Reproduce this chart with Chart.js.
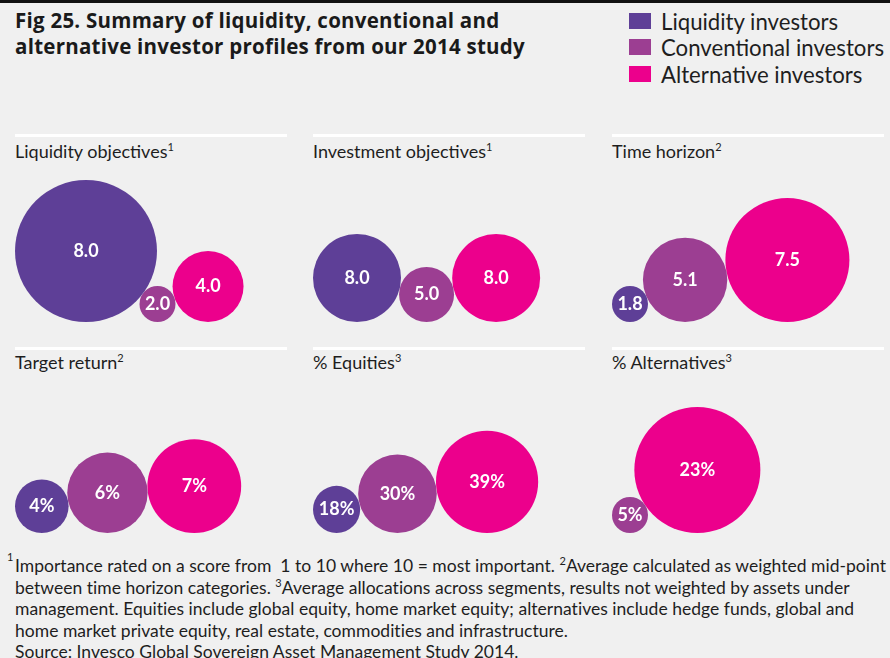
<!DOCTYPE html>
<html>
<head>
<meta charset="utf-8">
<script src="https://cdn.jsdelivr.net/npm/chart.js@4.4.1/dist/chart.umd.min.js"></script>
<style>
  body { margin: 0; background: #f0f0f0; font-family: Lato, "Noto Sans", sans-serif; color: #1e1e1e; }
  #page { position: relative; width: 890px; height: 658px; overflow: hidden; background: #f0f0f0; }
  .topbar { position: absolute; left: 0; top: 0; width: 890px; height: 3px; background: #111; }
  .title { position: absolute; left: 15px; top: 7px; font-family: "Open Sans", Lato, sans-serif; font-weight: bold; font-size: 20.5px; line-height: 26px; letter-spacing: 0.25px; white-space: nowrap; color: #1a1a1a; }
  .legend-item { position: absolute; left: 629px; height: 26px; display: flex; align-items: center; font-size: 22.2px; white-space: nowrap; }
  .legend-item span.box { display: inline-block; width: 22px; height: 16px; margin-right: 10px; }
  .rule { position: absolute; width: 272px; height: 3px; background: #fff; }
  .ptitle { position: absolute; font-size: 18px; line-height: 18px; white-space: nowrap; }
  .ptitle sup, .notes sup { font-size: 11px; line-height: 0; vertical-align: 0; position: relative; top: -7px; }
  canvas { position: absolute; }
  .notes { position: absolute; left: 15px; top: 555px; font-size: 17.5px; line-height: 21.5px; letter-spacing: 0.02px; white-space: nowrap; }
  .notes .first { position: absolute; left: -8px; top: 2px; }
</style>
</head>
<body>
<div id="page">
  <div class="topbar"></div>
  <div class="title">Fig 25. Summary of liquidity, conventional and<br>alternative investor profiles from our 2014 study</div>
  <div id="legend"></div>
  <div id="panels"></div>
  <div class="notes"><sup class="first">1</sup>Importance rated on a score from&nbsp; 1 to 10 where 10 = most important. <sup>2</sup>Average calculated as weighted mid-point<br>between time horizon categories. <sup>3</sup>Average allocations across segments, results not weighted by assets under<br>management. Equities include global equity, home market equity; alternatives include hedge funds, global and<br>home market private equity, real estate, commodities and infrastructure.<br>Source: Invesco Global Sovereign Asset Management Study 2014.</div>
</div>
<script>
// data
const panels = ['Liquidity objectives', 'Investment objectives', 'Time horizon', 'Target return', '% Equities', '% Alternatives'];
const noteRefs = ['1', '1', '2', '2', '3', '3'];
const seriesNames = ['Liquidity investors', 'Conventional investors', 'Alternative investors'];
const liquidity = [8.0, 8.0, 1.8, 4, 18, null];
const conventional = [2.0, 5.0, 5.1, 6, 30, 5];
const alternative = [4.0, 8.0, 7.5, 7, 39, 23];
const decimals = [1, 1, 1, 0, 0, 0];
const units = ['', '', '', '%', '%', '%'];

// look
const colors = ['#5e3f97', '#9c3e92', '#ec008c'];
const colLeft = [15, 313, 612];
const rowRule = [134, 347];
const rowTitle = [142, 353];
const rowChart = [160, 371];
const chartW = 272, chartH = 162;
const pxPerUnit = [8.875, 5.5, 8.27, 6.7, 1.31, 2.74]; // bubble radius scale per panel
const minRadius = 18;

// legend
const legendTops = [8, 34, 61];
const legend = document.getElementById('legend');
seriesNames.forEach((name, i) => {
    const item = document.createElement('div');
    item.className = 'legend-item';
    item.style.top = legendTops[i] + 'px';
    item.innerHTML = '<span class="box" style="background:' + colors[i] + '"></span>' + name;
    legend.appendChild(item);
});

// white labels in the middle of each bubble
const bubbleLabels = {
    id: 'bubbleLabels',
    afterDatasetsDraw(chart) {
        const c = chart.ctx;
        c.save();
        c.fillStyle = '#ffffff';
        c.font = 'bold 18px Lato';
        c.textAlign = 'center';
        c.textBaseline = 'middle';
        chart.data.datasets.forEach((ds, i) => {
            chart.getDatasetMeta(i).data.forEach((pt, j) => {
                c.fillText(ds.data[j].label, pt.x, pt.y);
            });
        });
        c.restore();
    }
};

const holder = document.getElementById('panels');
const allSeries = [liquidity, conventional, alternative];

panels.forEach((name, p) => {
    const row = Math.floor(p / 3), col = p % 3;

    const rule = document.createElement('div');
    rule.className = 'rule';
    rule.style.left = colLeft[col] + 'px';
    rule.style.top = rowRule[row] + 'px';
    holder.appendChild(rule);

    const t = document.createElement('div');
    t.className = 'ptitle';
    t.style.left = colLeft[col] + 'px';
    t.style.top = rowTitle[row] + 'px';
    t.innerHTML = name + '<sup>' + noteRefs[p] + '</sup>';
    holder.appendChild(t);

    const cv = document.createElement('canvas');
    cv.width = chartW;
    cv.height = chartH;
    cv.style.left = colLeft[col] + 'px';
    cv.style.top = rowChart[row] + 'px';
    holder.appendChild(cv);

    // bubbles sit on a common floor, each one touching the next
    let prevR = null, x = 0;
    const datasets = [];
    allSeries.forEach((series, s) => {
        const v = series[p];
        if (v == null) return;
        const r = Math.max(v * pxPerUnit[p], minRadius);
        x = prevR == null ? r : x + 2 * Math.sqrt(prevR * r);
        prevR = r;
        datasets.push({
            label: seriesNames[s],
            data: [{ x: x, y: r, r: r, label: v.toFixed(decimals[p]) + units[p] }],
            backgroundColor: colors[s],
            borderWidth: 0,
            hoverRadius: 0,
            clip: false
        });
    });

    new Chart(cv, {
        type: 'bubble',
        data: { datasets: datasets },
        options: {
            responsive: false,
            animation: false,
            events: [],
            layout: { padding: 0, autoPadding: false },
            plugins: { legend: { display: false }, tooltip: { enabled: false } },
            scales: {
                x: { type: 'linear', display: false, min: 0, max: chartW },
                y: { type: 'linear', display: false, min: 0, max: chartH }
            }
        },
        plugins: [bubbleLabels]
    });
});
</script>
</body>
</html>
